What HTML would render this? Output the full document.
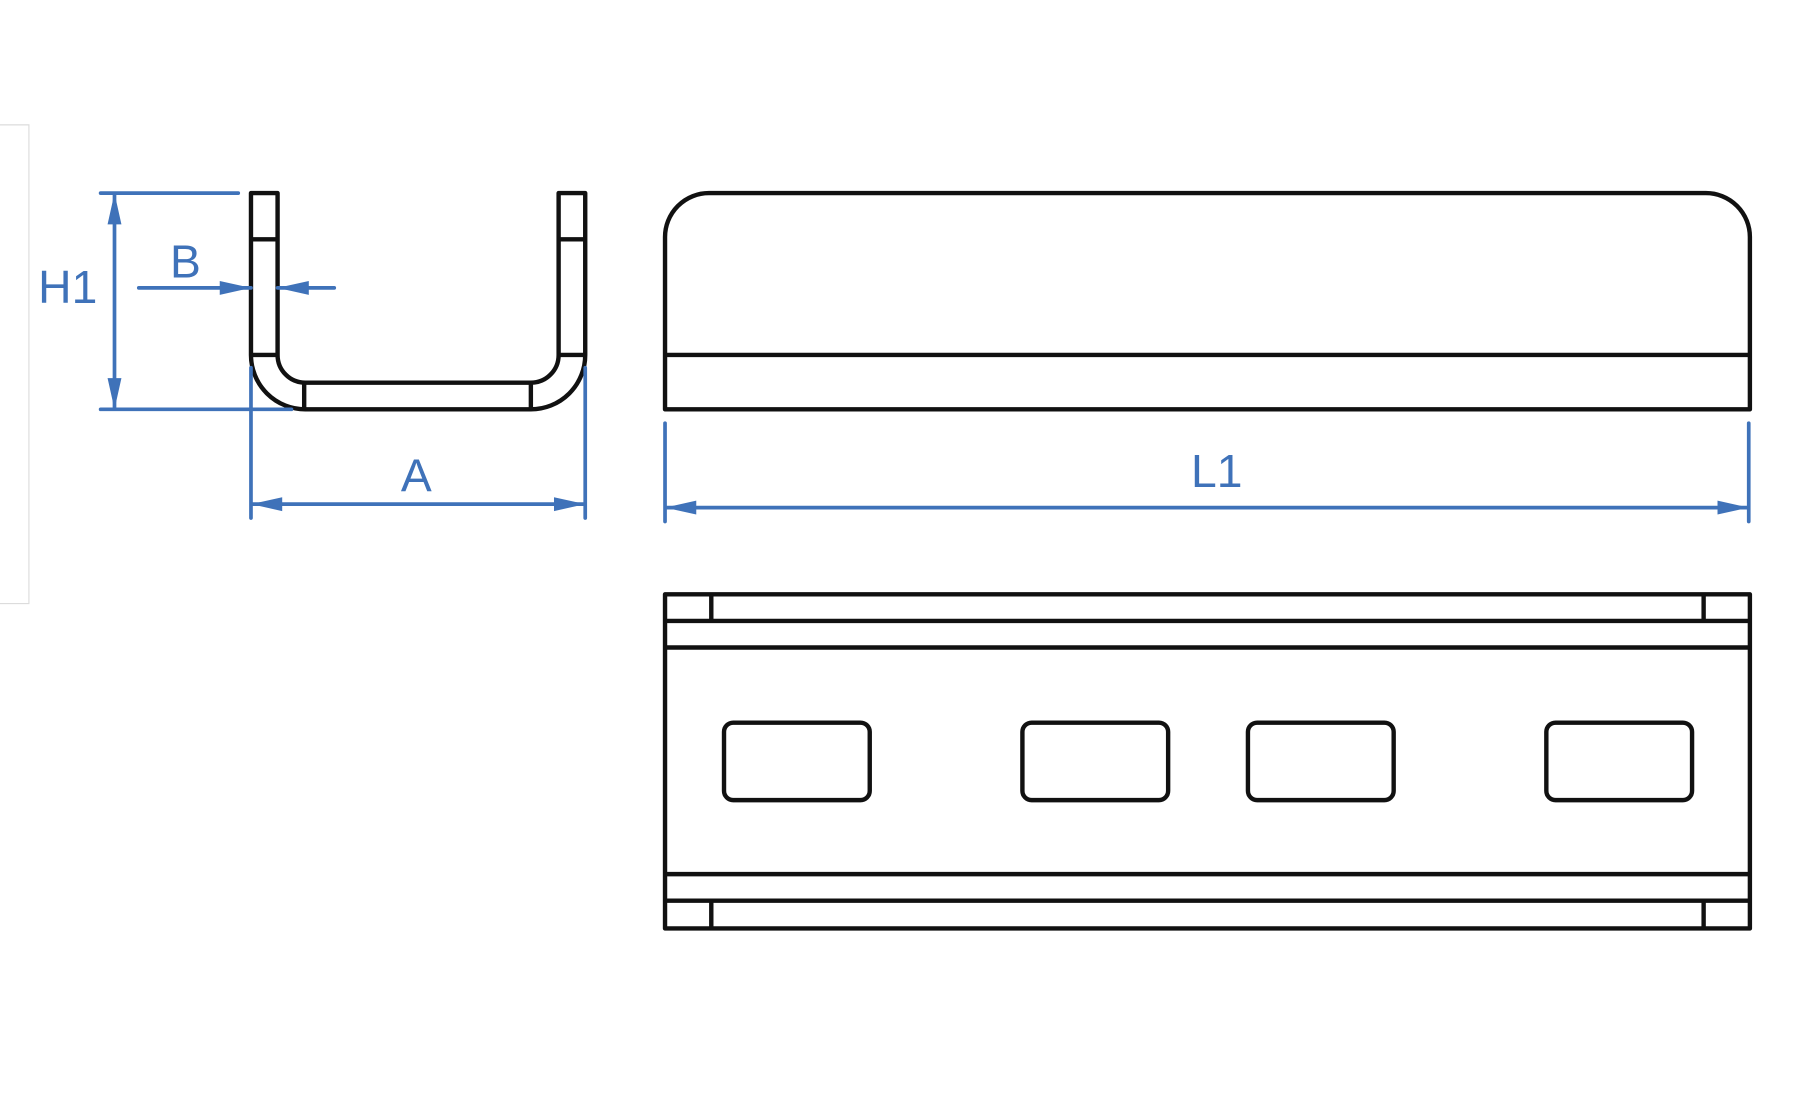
<!DOCTYPE html>
<html><head><meta charset="utf-8"><style>html,body{margin:0;padding:0;background:#fff}svg{display:block}</style></head><body>
<svg width="1795" height="1110" viewBox="0 0 1552 960" preserveAspectRatio="none" xmlns="http://www.w3.org/2000/svg">
<g stroke="#dcdcdc" stroke-width="1" fill="none"><path d="M0,108 H25 V522 H0"/></g>
<g stroke="#111" stroke-width="3.8" fill="none" stroke-linejoin="round">
<path d="M217,167 H240 V307 A24,24 0 0 0 264,331 H459 A24,24 0 0 0 483,307 V167 H506 V307 A47,47 0 0 1 459,354 H264 A47,47 0 0 1 217,307 Z"/>
<path d="M217,207 H240 M217,307 H240 M483,207 H506 M483,307 H506 M263,331 V354 M459,331 V354"/>
<path d="M575,354 V205 A38,38 0 0 1 613,167 H1475 A38,38 0 0 1 1513,205 V354 Z"/>
<path d="M575,307 H1513"/>
<rect x="575" y="514" width="938" height="289"/>
<path d="M575,537 H1513 M575,560 H1513 M575,756 H1513 M575,779 H1513 M615,514 V537 M1473,514 V537 M615,779 V803 M1473,779 V803"/>
<rect x="626" y="625" width="126" height="67" rx="8"/>
<rect x="884" y="625" width="126" height="67" rx="8"/>
<rect x="1079" y="625" width="126" height="67" rx="8"/>
<rect x="1337" y="625" width="126" height="67" rx="8"/>
</g>
<g stroke="#3f72b9" stroke-width="3.2" fill="none" stroke-linecap="round">
<path d="M87,167 H206 M87,354 H252 M99,167 V354"/>
<path d="M120,249 H217 M240,249 H289"/>
<path d="M217,318 V448 M506,318 V448 M217,436 H506"/>
<path d="M575,366 V451 M1512,366 V451 M575,439 H1512"/>
</g>
<g fill="#3f72b9">
<path d="M99,167 L93,194 L105,194 Z M99,354 L93,327 L105,327 Z"/>
<path d="M217,249 L190,243 L190,255 Z M240,249 L267,243 L267,255 Z"/>
<path d="M217,436 L244,430 L244,442 Z M506,436 L479,430 L479,442 Z"/>
<path d="M575,439 L602,433 L602,445 Z M1512,439 L1485,433 L1485,445 Z"/>
</g>
<g fill="#3f72b9" font-family="Liberation Sans, sans-serif" font-size="40">
<text x="33" y="262">H1</text>
<text x="147" y="240">B</text>
<text x="360" y="425" text-anchor="middle">A</text>
<text x="1052" y="421" text-anchor="middle">L1</text>
</g>
</svg>
</body></html>
